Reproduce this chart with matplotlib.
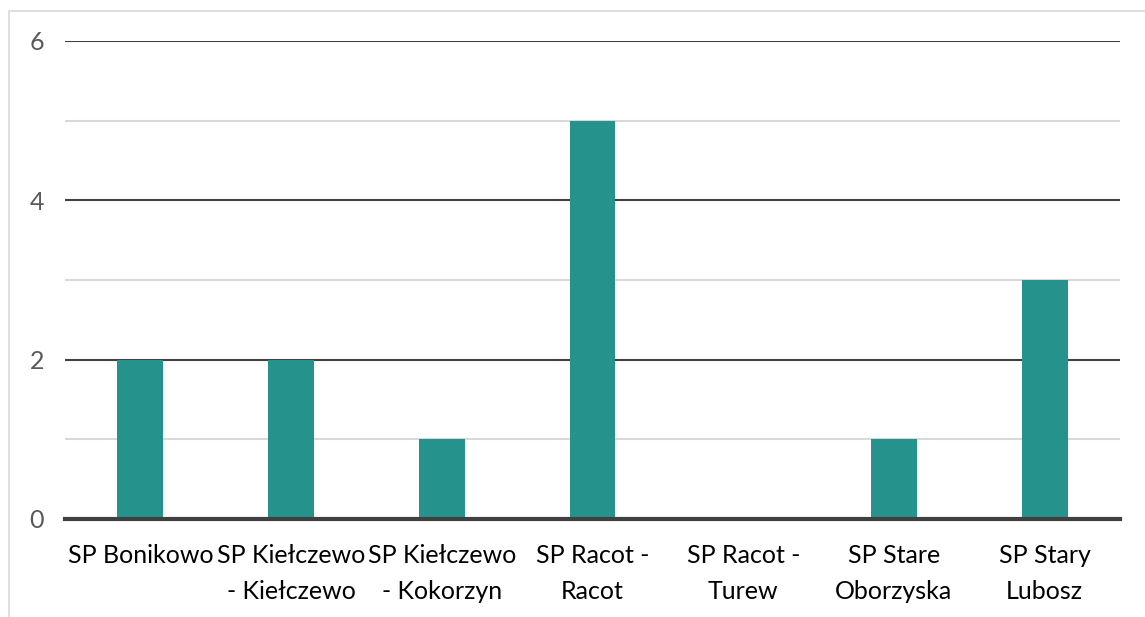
import matplotlib
matplotlib.use("Agg")
import matplotlib.pyplot as plt
from matplotlib.patches import Rectangle

categories = ["SP Bonikowo", "SP Kiełczewo\n- Kiełczewo", "SP Kiełczewo\n- Kokorzyn",
              "SP Racot -\nRacot", "SP Racot -\nTurew", "SP Stare\nOborzyska", "SP Stary\nLubosz"]
values = [2, 2, 1, 5, 0, 1, 3]
yticks = [0, 2, 4, 6]
minor_ticks = [1, 3, 5]

plt.rcParams['font.family'] = ['Lato', 'DejaVu Sans']

W, H = 1145, 617
fig = plt.figure(figsize=(W/100, H/100), dpi=100)
ax = fig.add_axes([65/W, 1 - 519/H, (1120-65)/W, (519-41)/H])

# outer chart border (extends beyond canvas right/bottom)
fig.patches.append(Rectangle((9/W, -0.1), 1.2, 1 - 11/H + 0.1, transform=fig.transFigure,
                             fill=False, edgecolor='#d9d9d9', linewidth=1.2))

x = range(len(categories))
ax.bar(x, values, width=0.305, color='#26928C', zorder=3)
ax.set_xlim(-0.5, len(categories) - 0.5)
ax.set_ylim(0, 6)

for v in minor_ticks:
    ax.axhline(v, color='#d9d9d9', linewidth=1.5, zorder=1)
for v in yticks[1:]:
    ax.axhline(v, color='#404040', linewidth=1.5, zorder=1)
ax.axhline(0, color='#404040', linewidth=3, zorder=4, clip_on=False)

for s in ax.spines.values():
    s.set_visible(False)
ax.set_yticks(yticks)
ax.set_yticklabels([str(t) for t in yticks], color='#595959', fontsize=18)
ax.tick_params(axis='y', length=0, pad=15)
ax.set_xticks(list(x))
ax.set_xticklabels(categories, fontsize=18, color='black', linespacing=1.68)
ax.tick_params(axis='x', length=0, pad=18)

fig.savefig("out.png", dpi=100)
